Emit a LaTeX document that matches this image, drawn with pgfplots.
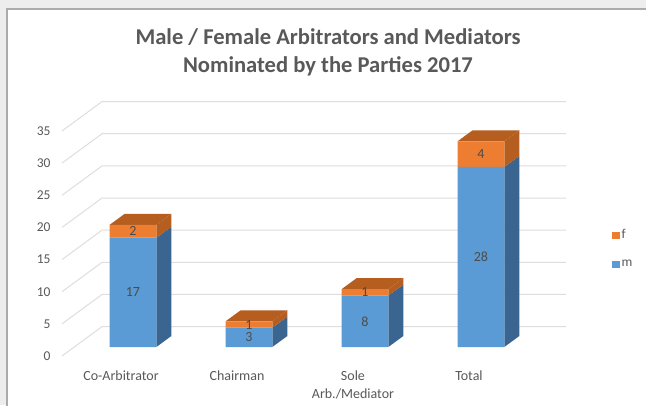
\documentclass[border=0pt]{standalone}
\usepackage{fontspec}
\setmainfont{Carlito}
\usepackage{pgfplots}
\pgfplotsset{compat=1.18}
\definecolor{bluef}{HTML}{5B9BD5}
\definecolor{blues}{HTML}{3A6590}
\definecolor{orangef}{HTML}{ED7D31}
\definecolor{oranges}{HTML}{B65E1F}
\definecolor{gridc}{HTML}{DEDEDE}
\definecolor{txt}{HTML}{595959}
\pgfplotsset{base/.style={
  at={(62pt,49pt)}, anchor=south west, scale only axis, width=504pt, height=254.6pt,
  xmin=-0.612, xmax=3.733, ymin=-1.4, ymax=38.2,
  clip=false, axis line style={draw=none}, tick style={draw=none},
  xtick=\empty, ytick=\empty},
  grid line/.style={gridc, line width=1pt, forget plot},
  side/.style={draw=none, fill=#1, forget plot}}
\begin{document}
\begin{tikzpicture}[x=1pt,y=1pt]
\clip (0,0) rectangle (646,405);
\useasboundingbox (0,0) rectangle (646,405);
\fill[black!7] (0,0) rectangle (646,405);
\fill[white, draw=black!33, line width=1.5pt] (7,-10) rectangle (670,396);
\node[font=\bfseries\fontsize{22.6}{28}\selectfont, text=txt, align=center] at (328,353) {Male / Female Arbitrators and Mediators\\Nominated by the Parties 2017};
\begin{axis}[base,
  ytick={-1.4,3.6,8.6,13.6,18.6,23.6,28.6,33.6},
  yticklabels={0,5,10,15,20,25,30,35},
  yticklabel style={font=\fontsize{13.5}{14}\selectfont, text=txt},
  tick align=outside, major tick length=0pt,
  yticklabel shift=8pt]
\addplot[grid line] coordinates {(-0.612,-1.4) (-0.267,3.17) (3.733,3.17)};
\addplot[grid line] coordinates {(-0.612,3.6) (-0.267,8.17) (3.733,8.17)};
\addplot[grid line] coordinates {(-0.612,8.6) (-0.267,13.17) (3.733,13.17)};
\addplot[grid line] coordinates {(-0.612,13.6) (-0.267,18.17) (3.733,18.17)};
\addplot[grid line] coordinates {(-0.612,18.6) (-0.267,23.17) (3.733,23.17)};
\addplot[grid line] coordinates {(-0.612,23.6) (-0.267,28.17) (3.733,28.17)};
\addplot[grid line] coordinates {(-0.612,28.6) (-0.267,33.17) (3.733,33.17)};
\addplot[grid line] coordinates {(-0.612,33.6) (-0.267,38.17) (3.733,38.17)};
% side and top faces of the bars
\addplot[side=blues] coordinates {(0.2013,0) (0.3306,1.71) (0.3306,18.71) (0.2013,17)} --cycle;
\addplot[side=oranges] coordinates {(0.2013,17) (0.3306,18.71) (0.3306,20.71) (0.2013,19)} --cycle;
\addplot[side=oranges] coordinates {(-0.2013,19) (-0.072,20.71) (0.3306,20.71) (0.2013,19)} --cycle;
\addplot[side=blues] coordinates {(1.2013,0) (1.3306,1.71) (1.3306,4.71) (1.2013,3)} --cycle;
\addplot[side=oranges] coordinates {(1.2013,3) (1.3306,4.71) (1.3306,5.71) (1.2013,4)} --cycle;
\addplot[side=oranges] coordinates {(0.7987,4) (0.928,5.71) (1.3306,5.71) (1.2013,4)} --cycle;
\addplot[side=blues] coordinates {(2.2013,0) (2.3306,1.71) (2.3306,9.71) (2.2013,8)} --cycle;
\addplot[side=oranges] coordinates {(2.2013,8) (2.3306,9.71) (2.3306,10.71) (2.2013,9)} --cycle;
\addplot[side=oranges] coordinates {(1.7987,9) (1.928,10.71) (2.3306,10.71) (2.2013,9)} --cycle;
\addplot[side=blues] coordinates {(3.2013,0) (3.3306,1.71) (3.3306,29.71) (3.2013,28)} --cycle;
\addplot[side=oranges] coordinates {(3.2013,28) (3.3306,29.71) (3.3306,33.71) (3.2013,32)} --cycle;
\addplot[side=oranges] coordinates {(2.7987,32) (2.928,33.71) (3.3306,33.71) (3.2013,32)} --cycle;
\end{axis}
\begin{axis}[base, ybar stacked, bar width=46.7pt,
  xtick={0,1,2,3},
  xticklabels={Co-Arbitrator,Chairman,{Sole\\Arb./Mediator},Total},
  xticklabel style={font=\fontsize{14}{18}\selectfont, text=txt, align=center, xshift=-12pt, anchor=north, yshift=-11pt},
  reverse legend,
  legend cell align=left,
  legend style={at={(1.09,0.42)}, anchor=west, draw=none, fill=none,
    font=\fontsize{13.5}{14}\selectfont, text=txt, row sep=16pt, inner sep=0pt},
  legend image code/.code={\fill[#1] (0pt,-3.5pt) rectangle (8pt,3.5pt);}]
\addplot[fill=bluef, draw=none] coordinates {(0,17) (1,3) (2,8) (3,28)};
\addplot[fill=orangef, draw=none] coordinates {(0,2) (1,1) (2,1) (3,4)};
\legend{m,f}
\end{axis}
\begin{axis}[base]
\addplot[draw=none, forget plot, nodes near coords, point meta=explicit symbolic,
  every node near coord/.append style={anchor=center, font=\fontsize{14}{14}\selectfont, text=black!70}]
  coordinates {(0,8.5)[17] (1,1.5)[3] (2,4)[8] (3,14)[28] (0,18)[2] (1,3.5)[1] (2,8.5)[1] (3,30)[4]};
\end{axis}
\end{tikzpicture}
\end{document}
